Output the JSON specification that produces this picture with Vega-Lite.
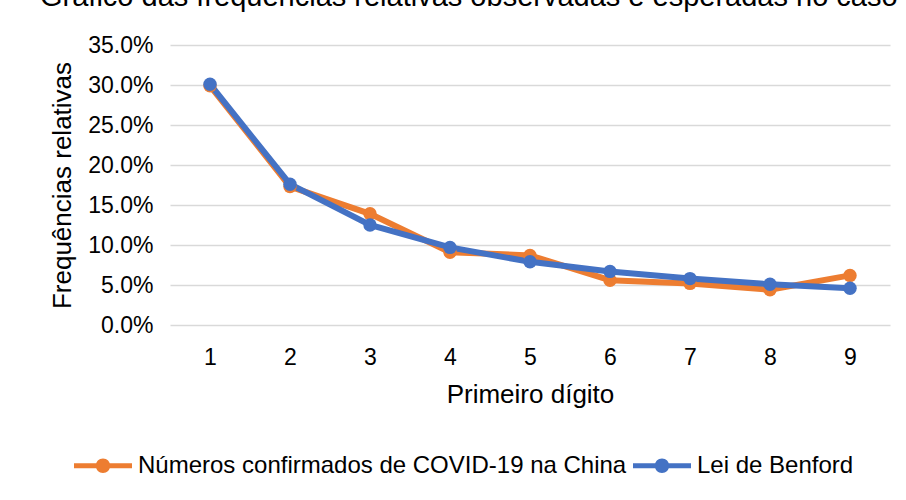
{
  "$schema": "https://vega.github.io/schema/vega-lite/v6.json",
  "width": 720,
  "height": 280,
  "autosize": {"type": "none"},
  "padding": {"left": 170, "top": 45, "right": 16, "bottom": 175},
  "background": "white",
  "title": {
    "text": "Gráfico das frequências relativas observadas e esperadas no caso",
    "anchor": "start",
    "frame": "group",
    "dx": -130,
    "dy": 1,
    "baseline": "alphabetic",
    "offset": 0,
    "font": "Liberation Sans",
    "fontSize": 29,
    "fontWeight": "normal",
    "color": "black"
  },
  "data": {
    "values": [
      {"digit": "1", "serie": "Números confirmados de COVID-19 na China", "freq": 0.299},
      {"digit": "2", "serie": "Números confirmados de COVID-19 na China", "freq": 0.173},
      {"digit": "3", "serie": "Números confirmados de COVID-19 na China", "freq": 0.139},
      {"digit": "4", "serie": "Números confirmados de COVID-19 na China", "freq": 0.091},
      {"digit": "5", "serie": "Números confirmados de COVID-19 na China", "freq": 0.087},
      {"digit": "6", "serie": "Números confirmados de COVID-19 na China", "freq": 0.056},
      {"digit": "7", "serie": "Números confirmados de COVID-19 na China", "freq": 0.052},
      {"digit": "8", "serie": "Números confirmados de COVID-19 na China", "freq": 0.044},
      {"digit": "9", "serie": "Números confirmados de COVID-19 na China", "freq": 0.062},
      {"digit": "1", "serie": "Lei de Benford", "freq": 0.301},
      {"digit": "2", "serie": "Lei de Benford", "freq": 0.176},
      {"digit": "3", "serie": "Lei de Benford", "freq": 0.125},
      {"digit": "4", "serie": "Lei de Benford", "freq": 0.097},
      {"digit": "5", "serie": "Lei de Benford", "freq": 0.079},
      {"digit": "6", "serie": "Lei de Benford", "freq": 0.067},
      {"digit": "7", "serie": "Lei de Benford", "freq": 0.058},
      {"digit": "8", "serie": "Lei de Benford", "freq": 0.051},
      {"digit": "9", "serie": "Lei de Benford", "freq": 0.046}
    ]
  },
  "encoding": {
    "x": {
      "field": "digit",
      "type": "ordinal",
      "scale": {"type": "point", "padding": 0.5},
      "axis": {
        "title": "Primeiro dígito",
        "labelAngle": 0,
        "ticks": false,
        "tickSize": 0,
        "domain": false,
        "labelPadding": 21,
        "titleY": 77,
        "titleBaseline": "alphabetic"
      }
    },
    "y": {
      "field": "freq",
      "type": "quantitative",
      "scale": {"domain": [0, 0.35], "nice": false},
      "axis": {
        "title": "Frequências relativas",
        "format": ".1%",
        "values": [0, 0.05, 0.1, 0.15, 0.2, 0.25, 0.3, 0.35],
        "ticks": false,
        "tickSize": 0,
        "domain": false,
        "labelPadding": 17,
        "titleX": -100,
        "titleBaseline": "alphabetic"
      }
    },
    "color": {
      "field": "serie",
      "type": "nominal",
      "scale": {
        "domain": ["Números confirmados de COVID-19 na China", "Lei de Benford"],
        "range": ["#ED7D31", "#4472C4"]
      },
      "legend": {
        "title": null,
        "orient": "none",
        "direction": "horizontal",
        "legendX": -96,
        "legendY": 406,
        "symbolType": "M-1,-0.17L3,-0.17L3,0.17L-1,0.17Z M0.5,0A0.5,0.5 0 1,1 1.5,0A0.5,0.5 0 1,1 0.5,0Z",
        "symbolSize": 841,
        "symbolStrokeWidth": 0,
        "symbolOpacity": 1,
        "labelOffset": 35,
        "columnPadding": 6,
        "padding": 0,
        "labelFont": "Liberation Sans",
        "labelFontSize": 24,
        "labelColor": "black",
        "labelLimit": 1000,
        "encode": {
          "symbols": {
            "update": {
              "fill": {"scale": "color", "field": "value"},
              "stroke": {"value": "transparent"}
            }
          }
        }
      }
    }
  },
  "layer": [
    {"mark": {"type": "line", "strokeWidth": 6}},
    {"mark": {"type": "point", "filled": true, "size": 180, "opacity": 1, "shape": "circle"}}
  ],
  "config": {
    "view": {"stroke": null},
    "axis": {
      "labelFont": "Liberation Sans",
      "labelFontSize": 23,
      "labelColor": "black",
      "titleFont": "Liberation Sans",
      "titleFontSize": 26,
      "titleFontWeight": "normal",
      "titleColor": "black",
      "gridColor": "#d9d9d9",
      "gridWidth": 1.5
    },
    "axisX": {"grid": false},
    "axisY": {"grid": true}
  }
}
